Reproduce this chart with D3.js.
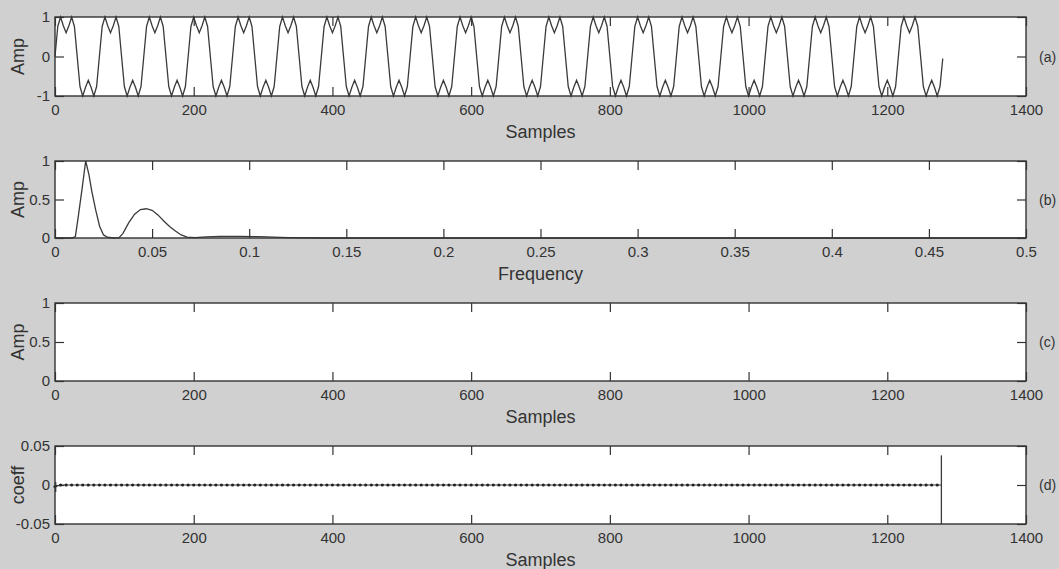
<!DOCTYPE html>
<html>
<head>
<meta charset="utf-8">
<script src="https://cdn.jsdelivr.net/npm/d3@7"></script>
<style>
  body { margin: 0; background: #d0d0d0; }
  svg { display: block; }
  text { font-family: "Liberation Sans", Arial, sans-serif; fill: #333; }
</style>
</head>
<body>
<svg width="1059" height="569"></svg>
<script>
"use strict";

// Data.

// (a) signal, one value every 4 samples (20 periods of 64 samples).
var SignalStep = 4;
var signalA = [
  0,0.76,1,0.78,0.6,0.78,1,0.76,0,-0.76,-1,-0.78,-0.6,-0.78,-1,-0.76,
  0,0.76,1,0.78,0.6,0.78,1,0.76,0,-0.76,-1,-0.78,-0.6,-0.78,-1,-0.76,
  0,0.76,1,0.78,0.6,0.78,1,0.76,0,-0.76,-1,-0.78,-0.6,-0.78,-1,-0.76,
  0,0.76,1,0.78,0.6,0.78,1,0.76,0,-0.76,-1,-0.78,-0.6,-0.78,-1,-0.76,
  0,0.76,1,0.78,0.6,0.78,1,0.76,0,-0.76,-1,-0.78,-0.6,-0.78,-1,-0.76,
  0,0.76,1,0.78,0.6,0.78,1,0.76,0,-0.76,-1,-0.78,-0.6,-0.78,-1,-0.76,
  0,0.76,1,0.78,0.6,0.78,1,0.76,0,-0.76,-1,-0.78,-0.6,-0.78,-1,-0.76,
  0,0.76,1,0.78,0.6,0.78,1,0.76,0,-0.76,-1,-0.78,-0.6,-0.78,-1,-0.76,
  0,0.76,1,0.78,0.6,0.78,1,0.76,0,-0.76,-1,-0.78,-0.6,-0.78,-1,-0.76,
  0,0.76,1,0.78,0.6,0.78,1,0.76,0,-0.76,-1,-0.78,-0.6,-0.78,-1,-0.76,
  0,0.76,1,0.78,0.6,0.78,1,0.76,0,-0.76,-1,-0.78,-0.6,-0.78,-1,-0.76,
  0,0.76,1,0.78,0.6,0.78,1,0.76,0,-0.76,-1,-0.78,-0.6,-0.78,-1,-0.76,
  0,0.76,1,0.78,0.6,0.78,1,0.76,0,-0.76,-1,-0.78,-0.6,-0.78,-1,-0.76,
  0,0.76,1,0.78,0.6,0.78,1,0.76,0,-0.76,-1,-0.78,-0.6,-0.78,-1,-0.76,
  0,0.76,1,0.78,0.6,0.78,1,0.76,0,-0.76,-1,-0.78,-0.6,-0.78,-1,-0.76,
  0,0.76,1,0.78,0.6,0.78,1,0.76,0,-0.76,-1,-0.78,-0.6,-0.78,-1,-0.76,
  0,0.76,1,0.78,0.6,0.78,1,0.76,0,-0.76,-1,-0.78,-0.6,-0.78,-1,-0.76,
  0,0.76,1,0.78,0.6,0.78,1,0.76,0,-0.76,-1,-0.78,-0.6,-0.78,-1,-0.76,
  0,0.76,1,0.78,0.6,0.78,1,0.76,0,-0.76,-1,-0.78,-0.6,-0.78,-1,-0.76,
  0,0.76,1,0.78,0.6,0.78,1,0.76,0,-0.76,-1,-0.78,-0.6,-0.78,-1,-0.76,
  -0.05
];

// (b) amplitude spectrum.
var specFreq = [0, 0.009, 0.0105, 0.012, 0.014, 0.0158, 0.0175, 0.019, 0.021, 0.023,
                0.025, 0.027, 0.030, 0.033, 0.035, 0.038, 0.041, 0.044, 0.047, 0.050,
                0.053, 0.056, 0.059, 0.062, 0.065, 0.068, 0.072, 0.078, 0.085, 0.095,
                0.105, 0.12, 0.14, 0.5];
var specAmp  = [0, 0, 0.02, 0.28, 0.65, 1.0, 0.82, 0.6, 0.36, 0.15,
                0.04, 0.01, 0, 0.005, 0.06, 0.2, 0.31, 0.37, 0.38, 0.36,
                0.3, 0.22, 0.15, 0.09, 0.04, 0.012, 0.005, 0.015, 0.022, 0.022,
                0.018, 0.006, 0, 0];

// (d) coefficients, one every 8 samples, plus two vertical spikes.
var CoefStep = 8;
var coefD = [
  -0.002,0,0,0,0,0,0,0,0,0,0,0,0,0,0,0,0,0,0,0,
  0,0,0,0,0,0,0,0,0,0,0,0,0,0,0,0,0,0,0,0,
  0,0,0,0,0,0,0,0,0,0,0,0,0,0,0,0,0,0,0,0,
  0,0,0,0,0,0,0,0,0,0,0,0,0,0,0,0,0,0,0,0,
  0,0,0,0,0,0,0,0,0,0,0,0,0,0,0,0,0,0,0,0,
  0,0,0,0,0,0,0,0,0,0,0,0,0,0,0,0,0,0,0,0,
  0,0,0,0,0,0,0,0,0,0,0,0,0,0,0,0,0,0,0,0,
  0,0,0,0,0,0,0,0,0,0,0,0,0,0,0,0,0,0,0,0
];
var spikeX  = [1, 1278];
var spikeY1 = [0.004, 0.038];
var spikeY2 = [-0.009, -0.05];

// Ticks and labels.
var sampleTicks = [0, 200, 400, 600, 800, 1000, 1200, 1400];
var freqTicks = [0, 0.05, 0.1, 0.15, 0.2, 0.25, 0.3, 0.35, 0.4, 0.45, 0.5];
var ampTicksA = [-1, 0, 1];
var ampTicksB = [0, 0.5, 1];
var coefTicks = [-0.05, 0, 0.05];

// Layout.

var svg = d3.select("svg");
var Left = 55, Right = 1026;
var TickLen = 9;
var AxisColor = "#333";
var LineColor = "#3a3a3a";

var panels = [
  {top: 17,  bottom: 96,  xDomain: [0, 1400], yDomain: [-1, 1],       xTicks: sampleTicks, yTicks: ampTicksA, xLabel: "Samples",   yLabel: "Amp",   tag: "(a)"},
  {top: 161, bottom: 238, xDomain: [0, 0.5],  yDomain: [0, 1],        xTicks: freqTicks,   yTicks: ampTicksB, xLabel: "Frequency", yLabel: "Amp",   tag: "(b)"},
  {top: 303, bottom: 381, xDomain: [0, 1400], yDomain: [0, 1],        xTicks: sampleTicks, yTicks: ampTicksB, xLabel: "Samples",   yLabel: "Amp",   tag: "(c)"},
  {top: 446, bottom: 524, xDomain: [0, 1400], yDomain: [-0.05, 0.05], xTicks: sampleTicks, yTicks: coefTicks, xLabel: "Samples",   yLabel: "coeff", tag: "(d)"}
];

var StyleAxis = function(sel){
  sel.select(".domain").remove();
  sel.selectAll(".tick line").attr("stroke", AxisColor).attr("stroke-width", 1.2);
  sel.selectAll(".tick text")
    .style("font-size", "15px")
    .style("font-family", "'Liberation Sans', Arial, sans-serif")
    .attr("fill", "#333");
};

var DrawPanel = function(p){
  p.x = d3.scaleLinear().domain(p.xDomain).range([Left, Right]);
  p.y = d3.scaleLinear().domain(p.yDomain).range([p.bottom, p.top]);
  var g = svg.append("g");
  p.g = g;

  g.append("rect")
    .attr("x", Left).attr("y", p.top)
    .attr("width", Right - Left).attr("height", p.bottom - p.top)
    .attr("fill", "#fff");

  var fmt = function(d){ return String(d); };

  // Bottom axis with labels, ticks pointing in.
  g.append("g")
    .attr("transform", "translate(0," + p.bottom + ")")
    .call(d3.axisBottom(p.x).tickValues(p.xTicks).tickFormat(fmt)
          .tickSize(-TickLen).tickPadding(8))
    .call(StyleAxis);

  // Top axis, ticks only.
  g.append("g")
    .attr("transform", "translate(0," + p.top + ")")
    .call(d3.axisTop(p.x).tickValues(p.xTicks).tickFormat("").tickSize(-TickLen))
    .call(StyleAxis);

  // Left axis with labels.
  g.append("g")
    .attr("transform", "translate(" + Left + ",0)")
    .call(d3.axisLeft(p.y).tickValues(p.yTicks).tickFormat(fmt)
          .tickSize(-TickLen).tickPadding(5))
    .call(StyleAxis);

  // Right axis, ticks only.
  g.append("g")
    .attr("transform", "translate(" + Right + ",0)")
    .call(d3.axisRight(p.y).tickValues(p.yTicks).tickFormat("").tickSize(-TickLen))
    .call(StyleAxis);

  // Axis labels.
  g.append("text")
    .attr("x", (Left + Right) / 2)
    .attr("y", p.bottom + 42)
    .attr("text-anchor", "middle")
    .style("font-size", "18px")
    .text(p.xLabel);

  g.append("text")
    .attr("transform", "translate(24," + (p.top + p.bottom) / 2 + ") rotate(-90)")
    .attr("text-anchor", "middle")
    .style("font-size", "18px")
    .text(p.yLabel);

  g.append("text")
    .attr("x", 1039)
    .attr("y", (p.top + p.bottom) / 2 + 5)
    .style("font-size", "14px")
    .text(p.tag);
};

var DrawBox = function(p){
  p.g.append("rect")
    .attr("x", Left).attr("y", p.top)
    .attr("width", Right - Left).attr("height", p.bottom - p.top)
    .attr("fill", "none")
    .attr("stroke", AxisColor)
    .attr("stroke-width", 1.4);
};

panels.forEach(DrawPanel);

// (a) signal.
var pa = panels[0];
pa.g.append("path")
  .datum(signalA)
  .attr("fill", "none")
  .attr("stroke", LineColor)
  .attr("stroke-width", 1.3)
  .attr("d", d3.line()
    .x(function(d, i){ return pa.x(i * SignalStep); })
    .y(function(d){ return pa.y(d); }));

// (b) spectrum.
var pb = panels[1];
pb.g.append("path")
  .datum(specAmp)
  .attr("fill", "none")
  .attr("stroke", LineColor)
  .attr("stroke-width", 1.3)
  .attr("d", d3.line()
    .x(function(d, i){ return pb.x(specFreq[i]); })
    .y(function(d){ return pb.y(d); }));

// (d) coefficients: line up to the end spike, with dot markers.
var pd = panels[3];
var coefLine = d3.line()
    .x(function(d){ return pd.x(d[0]); })
    .y(function(d){ return pd.y(d[1]); });
var coefPts = coefD.map(function(d, i){ return [i * CoefStep, d]; });
coefPts.push([spikeX[1], coefD[coefD.length - 1]]);

pd.g.append("path")
  .datum(coefPts)
  .attr("fill", "none")
  .attr("stroke", LineColor)
  .attr("stroke-width", 1.2)
  .attr("d", coefLine);

pd.g.selectAll("circle")
  .data(coefD)
  .enter()
  .append("circle")
    .attr("cx", function(d, i){ return pd.x(i * CoefStep); })
    .attr("cy", function(d){ return pd.y(d); })
    .attr("r", 1.6)
    .attr("fill", "#222");

pd.g.selectAll("line.spike")
  .data(spikeX)
  .enter()
  .append("line")
    .attr("class", "spike")
    .attr("x1", function(d){ return pd.x(d); })
    .attr("x2", function(d){ return pd.x(d); })
    .attr("y1", function(d, i){ return pd.y(spikeY1[i]); })
    .attr("y2", function(d, i){ return pd.y(spikeY2[i]); })
    .attr("stroke", LineColor)
    .attr("stroke-width", 1.3);

panels.forEach(DrawBox);
</script>
</body>
</html>
